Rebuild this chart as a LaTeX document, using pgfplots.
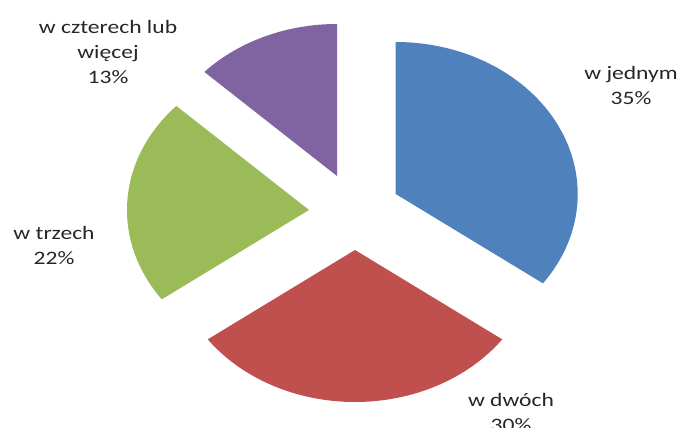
\documentclass[border=0pt]{standalone}
\usepackage{pgfplots}
\pgfplotsset{compat=1.18}
\usepackage{fontspec}
\setmainfont{Carlito}
\newfontfamily\lab[FakeStretch=1.24]{Carlito}
\definecolor{sA}{HTML}{4F81BD}
\definecolor{sB}{HTML}{C0504D}
\definecolor{sC}{HTML}{9BBB59}
\definecolor{sD}{HTML}{8064A2}
\definecolor{txt}{HTML}{262626}
% slice values (percent)
\def\vA{35}\def\vB{30}\def\vC{22}\def\vD{13}
\pgfmathsetmacro\aA{90}
\pgfmathsetmacro\aB{\aA-3.6*\vA}
\pgfmathsetmacro\aC{\aB-3.6*\vB}
\pgfmathsetmacro\aD{\aC-3.6*\vC}
\pgfmathsetmacro\aE{\aD-3.6*\vD}
\def\rx{182}\def\ry{152}
\tikzset{lbl/.style={font=\lab\fontsize{19bp}{25bp}\selectfont, text=txt, align=center, inner sep=0pt}}
\begin{document}
\begin{tikzpicture}
\begin{axis}[
  width=680bp, height=427bp, scale only axis,
  xmin=0, xmax=680, ymin=0, ymax=427,
  hide axis, clip=false,
]
\addplot[fill=sA, draw=none, domain=\aB:\aA, samples=90, variable=\t]
  ({395.7+\rx*cos(t)},{233+\ry*sin(t)}) -- (axis cs:395.7,233) -- cycle;
\addplot[fill=sB, draw=none, domain=\aC:\aB, samples=90, variable=\t]
  ({355+\rx*cos(t)},{177+\ry*sin(t)}) -- (axis cs:355,177) -- cycle;
\addplot[fill=sC, draw=none, domain=\aD:\aC, samples=90, variable=\t]
  ({309+\rx*cos(t)},{217+\ry*sin(t)}) -- (axis cs:309,217) -- cycle;
\addplot[fill=sD, draw=none, domain=\aE:\aD, samples=90, variable=\t]
  ({337+\rx*cos(t)},{251+\ry*sin(t)}) -- (axis cs:337,251) -- cycle;
\node[lbl] at (axis cs:631,342) {w jednym\\35\%};
\node[lbl] at (axis cs:511,15) {w dwóch\\30\%};
\node[lbl] at (axis cs:54,182) {w trzech\\22\%};
\node[lbl] at (axis cs:108,375) {w czterech lub\\więcej\\13\%};
\end{axis}
\pgfresetboundingbox
\path (current axis.south west) rectangle (current axis.north east);
\end{tikzpicture}
\end{document}
